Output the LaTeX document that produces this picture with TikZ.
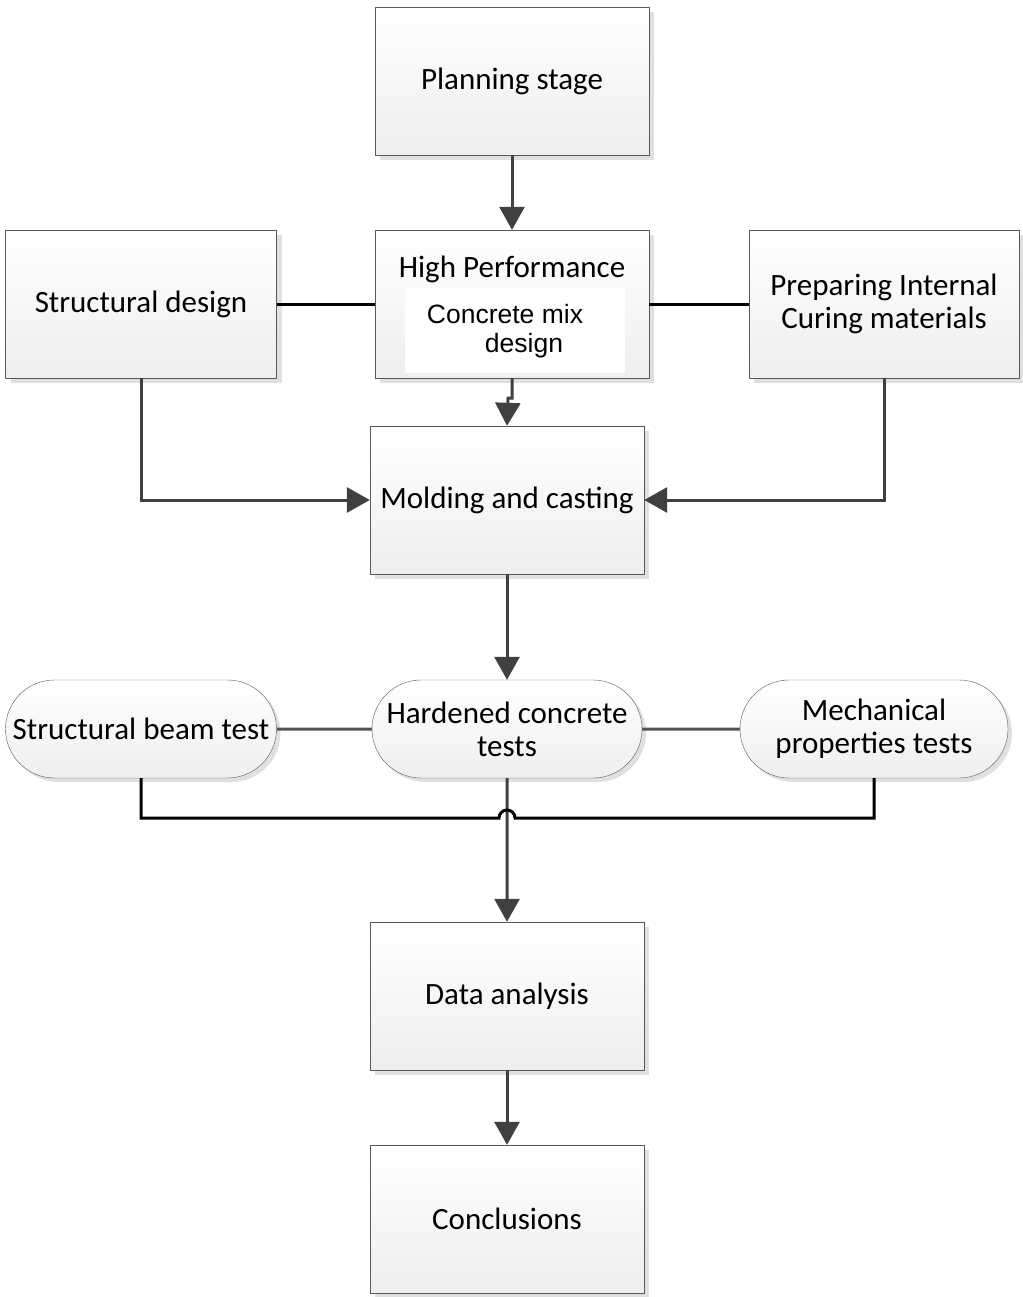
\documentclass[tikz,border=0pt]{standalone}
\usepackage{fontspec}
\setmainfont{Carlito}
\newfontfamily\arialfont{Liberation Sans}
\usetikzlibrary{arrows.meta,shapes.misc,shadows}
\definecolor{linegray}{HTML}{404040}
\begin{document}
\begin{tikzpicture}[x=1pt,y=-1pt,
  every node/.style = {align=center, font=\fontsize{31}{33}\selectfont},
  stagebox/.style = {shape=rectangle, draw=gray!70!black, top color=white,
    bottom color=gray!13, minimum width=274pt, minimum height=148pt,
    drop shadow={shadow xshift=5pt, shadow yshift=-5pt, fill=black!12, opacity=1}},
  testbox/.style = {shape=rounded rectangle, draw=gray!70!black, top color=white,
    bottom color=gray!13, minimum width=274pt, minimum height=98pt,
    inner xsep=2pt,
    drop shadow={shadow xshift=4pt, shadow yshift=-4pt, fill=black!12, opacity=1}},
  flow/.style = {draw=linegray, line width=3pt, -{Triangle[width=25pt,length=23pt]}},
  link/.style = {draw=black, line width=3pt},
  tlink/.style = {draw=linegray!90, line width=3pt}]
\useasboundingbox (0,0) rectangle (1022,1297);
\node[stagebox] (plan) at (512,81) {Planning stage};
\node[stagebox, minimum width=271pt] (struct) at (141,304) {Structural design};
\node[stagebox] (hpc) at (512,304) {};
\node[anchor=north] (hpctitle) at (512,252) {High Performance};
\node[fill=white, minimum width=220pt, minimum height=85pt] (hpcmix) at (515,330) {};
\node[font=\arialfont\fontsize{26.5}{29}\selectfont, align=left] (hpcmixtext) at (505,331)
  {Concrete mix\\\hspace*{58pt}design};
\node[stagebox, minimum width=270pt] (prep) at (884,304) {Preparing Internal\\Curing materials};
\node[stagebox] (mold) at (507,500) {Molding and casting};
\node[testbox, minimum width=275pt] (beam) at (141,729) {Structural beam test};
\node[testbox] (hard) at (507,729) {Hardened concrete\\tests};
\node[testbox, minimum width=272pt] (mech) at (874,729) {Mechanical\\properties tests};
\node[stagebox] (data) at (507,996) {Data analysis};
\node[stagebox] (concl) at (507,1219) {Conclusions};

\draw[flow] (plan) -- (hpc);
\draw[link] (struct) -- (hpc);
\draw[link] (hpc) -- (prep);
\draw[flow] (hpc.south) -- ++(0,20) -- ++(-4,0) -- (mold.north);
\draw[flow] (struct.south) |- (mold.west);
\draw[flow] (prep.south) |- (mold.east);
\draw[flow] (mold) -- (hard);
\draw[tlink] (beam) -- (hard);
\draw[tlink] (hard) -- (mech);
\draw[flow] (hard) -- (data);
\draw[link] (beam.south) -- (beam.south |- 0,818) -- ([xshift=-8pt]hard.south |- 0,818)
  arc[start angle=180, end angle=0, radius=8pt] -- (mech.south |- 0,818) -- (mech.south);
\draw[flow] (data) -- (concl);
\end{tikzpicture}
\end{document}
